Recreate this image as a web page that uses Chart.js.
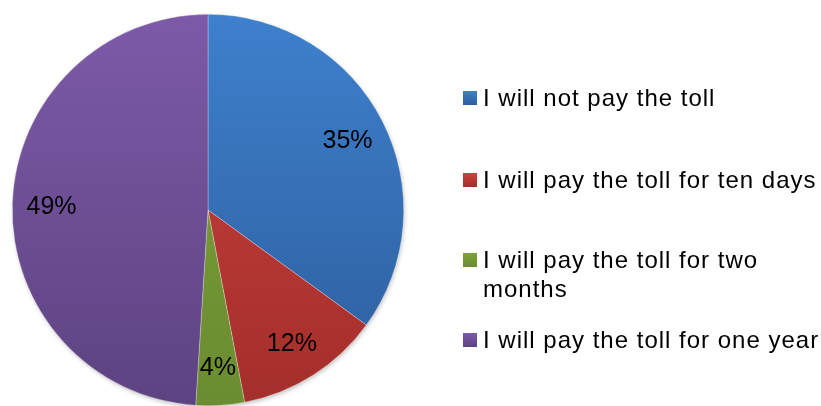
<!DOCTYPE html>
<html>
<head>
<meta charset="utf-8">
<script src="https://cdn.jsdelivr.net/npm/chart.js@4.4.0/dist/chart.umd.min.js"></script>
<style>
  html, body { margin: 0; padding: 0; background: #fff; }
  #wrap { width: 821px; height: 406px; position: relative; }
</style>
</head>
<body>
<div id="wrap"><canvas id="pieChart"></canvas></div>
<script>
const answers = [
    'I will not pay the toll',
    'I will pay the toll for ten days',
    'I will pay the toll for two months',
    'I will pay the toll for one year'
];
const shares = [35, 12, 4, 49];
// top / bottom colour of each slice's vertical shading
const topColors = ['#3e80cd', '#cd423d', '#7fa23b', '#7d5aa8'];
const bottomColors = ['#2d5d9c', '#a32e2b', '#6b8c30', '#5d4381'];

const FONT = '"Liberation Sans", Arial, sans-serif';

function shade(chart, i) {
    const area = chart.chartArea;
    if (!area) return topColors[i];
    const g = chart.ctx.createLinearGradient(0, area.top, 0, area.bottom);
    g.addColorStop(0, topColors[i]);
    g.addColorStop(1, bottomColors[i]);
    return g;
}

// soft drop shadow under the whole pie
const pieShadow = {
    id: 'pieShadow',
    beforeDatasetsDraw(chart) {
        const arc = chart.getDatasetMeta(0).data[0];
        if (!arc) return;
        const ctx = chart.ctx;
        ctx.save();
        ctx.shadowColor = 'rgba(0,0,0,0.3)';
        ctx.shadowBlur = 5;
        ctx.shadowOffsetX = 1;
        ctx.shadowOffsetY = 2;
        ctx.fillStyle = '#ffffff';
        ctx.beginPath();
        ctx.arc(arc.x, arc.y, arc.outerRadius - 1, 0, Math.PI * 2);
        ctx.fill();
        ctx.restore();
    }
};

// percentage labels inside the slices
const sliceLabels = {
    id: 'sliceLabels',
    afterDatasetsDraw(chart) {
        const ctx = chart.ctx;
        const meta = chart.getDatasetMeta(0);
        ctx.save();
        ctx.font = '25px ' + FONT;
        ctx.fillStyle = '#000';
        ctx.textAlign = 'center';
        ctx.textBaseline = 'middle';
        meta.data.forEach((arc, i) => {
            const p = arc.getProps(['x', 'y', 'startAngle', 'endAngle', 'outerRadius'], true);
            const mid = (p.startAngle + p.endAngle) / 2;
            const r = p.outerRadius * 0.8;
            ctx.fillText(shares[i] + '%', p.x + Math.cos(mid) * r, p.y + Math.sin(mid) * r + 2);
        });
        ctx.restore();
    }
};

// legend on the right, wrapping long entries
const sideLegend = {
    id: 'sideLegend',
    afterDraw(chart) {
        const ctx = chart.ctx;
        const rows = [98, 180, 260, 340];
        const boxX = 463, textX = 483, maxW = 345, lineH = 29;
        ctx.save();
        ctx.font = '24px ' + FONT;
        ctx.letterSpacing = '1px';
        ctx.textBaseline = 'middle';
        answers.forEach((label, i) => {
            const y = rows[i];
            const g = ctx.createLinearGradient(0, y - 7, 0, y + 7);
            g.addColorStop(0, topColors[i]);
            g.addColorStop(1, bottomColors[i]);
            ctx.fillStyle = g;
            ctx.fillRect(boxX, y - 7, 14, 14);

            const words = label.split(' ');
            const lines = [];
            let line = '';
            words.forEach(w => {
                const test = line ? line + ' ' + w : w;
                if (ctx.measureText(test).width > maxW && line) {
                    lines.push(line);
                    line = w;
                } else {
                    line = test;
                }
            });
            lines.push(line);
            ctx.fillStyle = '#000';
            lines.forEach((l, k) => ctx.fillText(l, textX, y + 1 + k * lineH));
        });
        ctx.restore();
    }
};

new Chart(document.getElementById('pieChart').getContext('2d'), {
    type: 'pie',
    data: {
        labels: answers,
        datasets: [{
            data: shares,
            backgroundColor: ctx => shade(ctx.chart, ctx.dataIndex),
            borderColor: 'rgba(255,255,255,0.45)',
            borderWidth: 0.6
        }]
    },
    options: {
        responsive: true,
        maintainAspectRatio: false,
        animation: false,
        layout: {
            padding: { left: 12, right: 417, top: 14, bottom: 0 }
        },
        plugins: {
            legend: { display: false },
            tooltip: { enabled: false }
        }
    },
    plugins: [pieShadow, sliceLabels, sideLegend]
});
</script>
</body>
</html>
